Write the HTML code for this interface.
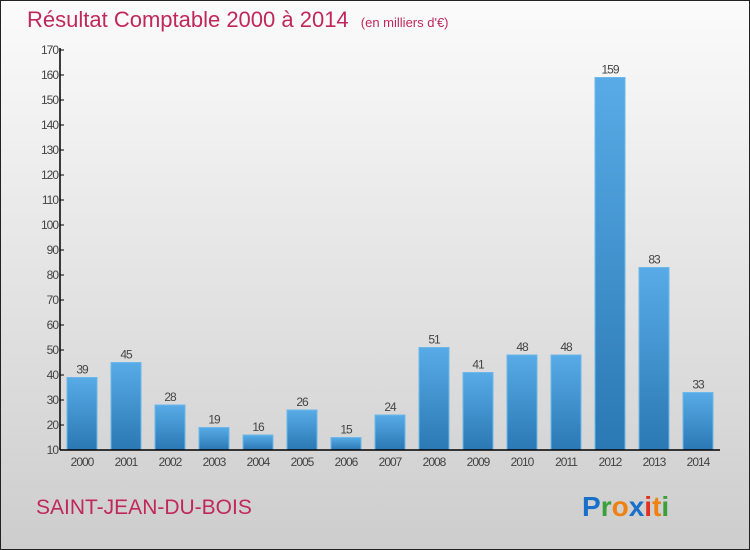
<!DOCTYPE html>
<html><head><meta charset="utf-8"><style>
body{margin:0;width:750px;height:550px;overflow:hidden;font-family:"Liberation Sans",sans-serif}
#wrap{position:absolute;left:0;top:0;width:748px;height:548px;border:1px solid #222;background:linear-gradient(#fbfbfb,#cdcdcd)}
</style></head><body>
<div id="wrap">
<svg width="750" height="550" style="position:absolute;left:-1px;top:-1px" id="svg">
<defs><linearGradient id="bg" x1="0" y1="0" x2="0" y2="1"><stop offset="0" stop-color="#58abe6"/><stop offset="1" stop-color="#2a78b4"/></linearGradient></defs>
<text x="27" y="27" font-size="22" fill="#c0285a">Résultat Comptable 2000 à 2014 <tspan font-size="13" dx="6">(en milliers d'€)</tspan></text>
<text x="36" y="514" font-size="21" fill="#c0285a">SAINT-JEAN-DU-BOIS</text>
<text x="582" y="516" font-size="28" font-weight="bold"><tspan fill="#1a6fc8">P</tspan><tspan fill="#3aa03a">r</tspan><tspan fill="#f08010">o</tspan><tspan fill="#1a6fc8">x</tspan><tspan fill="#e03020">i</tspan><tspan fill="#f08010">t</tspan><tspan fill="#3aa03a">i</tspan></text>
<g id="g"></g>
</svg></div>
<script>
const categories=["2000","2001","2002","2003","2004","2005","2006","2007","2008","2009","2010","2011","2012","2013","2014"];
const values=[39,45,28,19,16,26,15,24,51,41,48,48,159,83,33];
const yTicks=[10,20,30,40,50,60,70,80,90,100,110,120,130,140,150,160,170];
const NS="http://www.w3.org/2000/svg";
const g=document.getElementById('g');
const x0=60,x1=720,y0=450,yMin=10,yMax=170,yTop=50;
const slot=(x1-x0)/categories.length;
function y(v){return y0-(v-yMin)/(yMax-yMin)*(y0-yTop);}
function mk(t,a,txt){const e=document.createElementNS(NS,t);for(const k in a)e.setAttribute(k,a[k]);if(txt!==undefined)e.textContent=txt;g.appendChild(e);return e;}
yTicks.forEach(t=>{
const l=mk('line',{x1:x0,x2:x0+4,y1:y(t),y2:y(t),stroke:'#000'});


const tx=mk('text',{x:x0-2,y:y(t)+4,'font-size':12,fill:'#444','text-anchor':'end','letter-spacing':'-1'},t);


});
categories.forEach((c,i)=>{
const cx=x0+slot*(i+0.5),v=values[i];
const r=mk('rect',{x:cx-15,y:y(v),width:30,height:y0-y(v),fill:'url(#bg)',stroke:'#6bb8ec','stroke-width':1});


const vl=mk('text',{x:cx,y:y(v)-4,'font-size':12,fill:'#444','text-anchor':'middle','letter-spacing':'-1'},v);


const xl=mk('text',{x:cx,y:466,'font-size':12,fill:'#444','text-anchor':'middle','letter-spacing':'-1'},c);


});
const ya=mk('line',{x1:x0,x2:x0,y1:yTop-2,y2:y0,stroke:'#000','stroke-width':1.5});


const xa=mk('line',{x1:x0,x2:x1,y1:y0,y2:y0,stroke:'#000','stroke-width':1.5});


</script>
</body></html>
